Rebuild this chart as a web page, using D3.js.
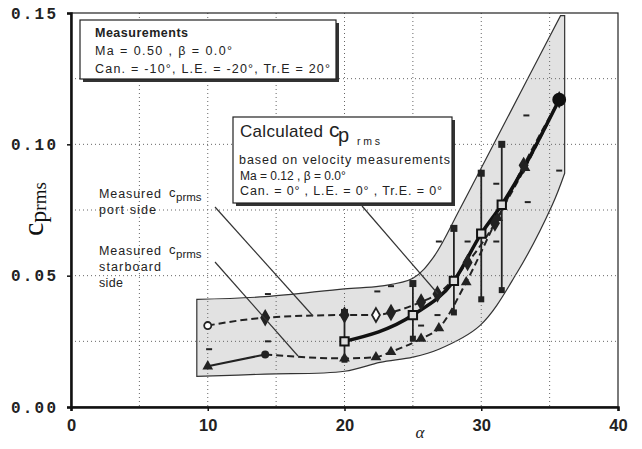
<!DOCTYPE html>
<html><head><meta charset="utf-8">
<script src="https://cdn.jsdelivr.net/npm/d3@7"></script>
<style>
body{margin:0;background:#fff;}
svg{display:block;}
</style></head>
<body>
<svg id="c" width="642" height="449"></svg>
<script>
// ---- data ----
const xTicks = [0, 10, 20, 30, 40];
const yTicks = [0.00, 0.05, 0.10, 0.15];
const yTickLabels = ["0.00", "0.05", "0.10", "0.15"];
const portAlpha = [10, 14.2, 20, 22.3, 23.4, 25.6, 26.8, 29.0, 31.0, 33.1, 35.7];
const portCp    = [0.031, 0.034, 0.035, 0.035, 0.036, 0.040, 0.043, 0.055, 0.070, 0.092, 0.117];
const starAlpha = [10, 14.2, 20, 22.3, 23.4, 25.6, 26.9, 28.9, 31.2, 33.2, 35.7];
const starCp    = [0.0155, 0.020, 0.0185, 0.019, 0.021, 0.026, 0.030, 0.0475, 0.072, 0.091, 0.117];
const calcAlpha = [20, 25, 28, 30, 31.5, 35.7];
const calcCp    = [0.025, 0.035, 0.048, 0.066, 0.077, 0.117];
const barAlpha  = [20, 25, 28, 30, 31.5];
const barLow    = [0.018, 0.026, 0.036, 0.041, 0.0445];
const barHigh   = [0.036, 0.047, 0.068, 0.089, 0.100];
const scatAlpha = [10.1, 14.4, 14.4, 22.4, 23.4, 25.6, 26.8, 26.9, 29.0, 31.1, 31.1, 33.3, 33.4, 35.7];
const scatCp    = [0.022, 0.025, 0.043, 0.044, 0.046, 0.031, 0.035, 0.063, 0.063, 0.063, 0.085, 0.111, 0.078, 0.090];
const bandUpperAlpha = [9.2, 14.2, 20, 22.6, 25, 26.5, 28.4, 30, 33.3, 35.8, 36.1];
const bandUpperCp    = [0.041, 0.042, 0.045, 0.046, 0.049, 0.057, 0.075, 0.091, 0.124, 0.149, 0.149];
const bandLowerAlpha = [36.1, 35.2, 32.6, 29.9, 26.9, 25, 22.6, 20, 14.2, 9.2];
const bandLowerCp    = [0.089, 0.077, 0.051, 0.031, 0.022, 0.019, 0.017, 0.0136, 0.0125, 0.0117];

// ---- layout ----
const svg = d3.select("#c");
const L = 71, R = 618, T = 13, B = 407;
const x = d3.scaleLinear().domain([0, 40]).range([L, R]);
const y = d3.scaleLinear().domain([0, 0.15]).range([B, T]);

// envelope band (smooth upper & lower edges, straight ends)
const bandLine = d3.line().x(d => x(d[0])).y(d => y(d[1])).curve(d3.curveCatmullRom.alpha(0.5));
const up = bandUpperAlpha.map((a, i) => [a, bandUpperCp[i]]);
const lo = bandLowerAlpha.map((a, i) => [a, bandLowerCp[i]]);
const bandPath = bandLine(up.slice(0, up.length - 1)) + "L" + x(up[up.length-1][0]) + "," + y(up[up.length-1][1]) +
  bandLine(lo).replace(/^M/, "L") + "Z";
svg.append("path").attr("d", bandPath)
  .attr("fill", "#e2e2e2").attr("stroke", "#333").attr("stroke-width", 1.2);

// grid (dotted)
const g = svg.append("g");
g.selectAll(".gx").data(d3.range(5, 40, 5)).join("line")
  .attr("x1", d => x(d)).attr("x2", d => x(d)).attr("y1", T).attr("y2", B)
  .attr("stroke", "#666").attr("stroke-width", 1).attr("stroke-dasharray", "1,3");
g.selectAll(".gy").data(d3.range(0.025, 0.15, 0.025)).join("line")
  .attr("y1", d => y(d)).attr("y2", d => y(d)).attr("x1", L).attr("x2", R)
  .attr("stroke", "#666").attr("stroke-width", 1).attr("stroke-dasharray", "1,3");

// frame
svg.append("rect").attr("x", L).attr("y", T).attr("width", R - L).attr("height", B - T)
  .attr("fill", "none").attr("stroke", "#222").attr("stroke-width", 1.2);

// axes
const xAxis = d3.axisBottom(x).tickValues(xTicks).tickSize(4).tickFormat(d3.format("d"));
const yAxis = d3.axisLeft(y).tickValues(yTicks).tickSize(4).tickFormat((d, i) => yTickLabels[i]);
const xa = svg.append("g").attr("transform", `translate(0,${B})`).call(xAxis);
const ya = svg.append("g").attr("transform", `translate(${L},0)`).call(yAxis);
xa.select(".domain").attr("stroke", "#111").attr("stroke-width", 2.5);
ya.select(".domain").attr("stroke", "#111").attr("stroke-width", 2.5);
xa.selectAll(".tick line").attr("stroke", "#111").attr("stroke-width", 1.5);
ya.selectAll(".tick line").attr("stroke", "#111").attr("stroke-width", 1.5);
xa.selectAll("text").attr("font-family", "Liberation Sans, Arial, sans-serif")
  .attr("font-weight", "bold").attr("font-size", 16.5).attr("fill", "#222").attr("dy", "1.0em");
ya.selectAll("text").attr("font-family", "Liberation Mono, DejaVu Sans Mono, monospace")
  .attr("font-weight", "bold").attr("font-size", 16).attr("fill", "#222").attr("dx", "-0.5em")
  .attr("textLength", 45).attr("lengthAdjust", "spacing");

// axis titles
const yl = svg.append("text").attr("transform", "translate(43,236) rotate(-90)")
  .attr("font-family", "Liberation Serif, serif").attr("fill", "#111");
yl.append("tspan").attr("font-size", 30).text("c");
yl.append("tspan").attr("font-size", 24).attr("dy", 3).text("p");
yl.append("tspan").attr("font-size", 19).attr("dy", 0).text("rms");
svg.append("text").attr("x", 420).attr("y", 438).attr("text-anchor", "middle")
  .attr("font-family", "Liberation Serif, serif").attr("font-style", "italic")
  .attr("font-size", 17).attr("fill", "#222").text("α");

// scatter dashes
svg.selectAll(".sc").data(scatAlpha.map((a, i) => [a, scatCp[i]])).join("line")
  .attr("x1", d => x(d[0]) - 3).attr("x2", d => x(d[0]) + 3)
  .attr("y1", d => y(d[1])).attr("y2", d => y(d[1]))
  .attr("stroke", "#222").attr("stroke-width", 2);

// error bars
const bars = barAlpha.map((a, i) => [a, barLow[i], barHigh[i]]);
svg.selectAll(".bar").data(bars).join("line")
  .attr("x1", d => x(d[0])).attr("x2", d => x(d[0]))
  .attr("y1", d => y(d[1])).attr("y2", d => y(d[2]))
  .attr("stroke", "#222").attr("stroke-width", 1.8);
svg.selectAll(".bt").data(bars).join("rect")
  .attr("x", d => x(d[0]) - 3.5).attr("y", d => y(d[2]) - 3.5).attr("width", 7).attr("height", 7)
  .attr("fill", "#222");
svg.selectAll(".bb").data(bars).join("rect")
  .attr("x", d => x(d[0]) - 3).attr("y", d => y(d[1]) - 3).attr("width", 6).attr("height", 6)
  .attr("fill", "#222");

const line = d3.line().x(d => x(d[0])).y(d => y(d[1])).curve(d3.curveMonotoneX);

// port side (dashed)
const port = portAlpha.map((a, i) => [a, portCp[i]]);
svg.append("path").datum(port).attr("d", line).attr("fill", "none")
  .attr("stroke", "#222").attr("stroke-width", 2).attr("stroke-dasharray", "7,4");
// starboard: solid first segment then dashed
const star = starAlpha.map((a, i) => [a, starCp[i]]);
svg.append("path").datum(star.slice(0, 2)).attr("d", line).attr("fill", "none")
  .attr("stroke", "#222").attr("stroke-width", 2);
svg.append("path").datum(star.slice(1)).attr("d", line).attr("fill", "none")
  .attr("stroke", "#222").attr("stroke-width", 2).attr("stroke-dasharray", "7,4");
// calculated (thick solid)
const calc = calcAlpha.map((a, i) => [a, calcCp[i]]);
svg.append("path").datum(calc).attr("d", line).attr("fill", "none")
  .attr("stroke", "#111").attr("stroke-width", 3.5);

// markers
svg.selectAll(".pm").data(port).join("path")
  .attr("transform", d => `translate(${x(d[0])},${y(d[1])})`)
  .attr("d", (d, i) => d3.symbol().type(i === 0 ? d3.symbolCircle : d3.symbolDiamond).size(i === 0 ? 40 : 55)())
  .attr("fill", (d, i) => (i === 0 || i === 3) ? "#fff" : "#222")
  .attr("stroke", "#222").attr("stroke-width", 1.8);
svg.selectAll(".sm").data(star).join("path")
  .attr("transform", d => `translate(${x(d[0])},${y(d[1])})`)
  .attr("d", (d, i) => d3.symbol().type(i === 1 ? d3.symbolCircle : d3.symbolTriangle).size(50)())
  .attr("fill", "#222");
svg.selectAll(".cm").data(calc).join("path")
  .attr("transform", d => `translate(${x(d[0])},${y(d[1])})`)
  .attr("d", (d, i) => d3.symbol().type(i === calc.length - 1 ? d3.symbolCircle : d3.symbolSquare).size(i === calc.length - 1 ? 110 : 70)())
  .attr("fill", (d, i) => i === calc.length - 1 ? "#111" : "#ddd")
  .attr("stroke", "#111").attr("stroke-width", 2);

// pointer lines
const ptr = [[215, 207, 313, 316], [215, 262, 298, 356], [362, 206, 438, 294]];
svg.selectAll(".ptr").data(ptr).join("line")
  .attr("x1", d => d[0]).attr("y1", d => d[1]).attr("x2", d => d[2]).attr("y2", d => d[3])
  .attr("stroke", "#333").attr("stroke-width", 1.2);

const font = "Liberation Sans, Arial, sans-serif";
function txt(parent, s, xp, yp, size, w, bold) {
  const t = parent.append("text").attr("x", xp).attr("y", yp).attr("font-size", size).text(s);
  if (w) t.attr("textLength", w).attr("lengthAdjust", "spacing");
  if (bold) t.attr("font-weight", "bold");
  return t;
}
// Measurements box
svg.append("rect").attr("x", 83).attr("y", 23).attr("width", 256).attr("height", 59).attr("fill", "#333");
svg.append("rect").attr("x", 80).attr("y", 20).attr("width", 256).attr("height", 59)
  .attr("fill", "#fff").attr("stroke", "#222").attr("stroke-width", 1.2);
const mt = svg.append("g").attr("font-family", font).attr("fill", "#222");
txt(mt, "Measurements", 95, 37, 12.5, 93, true);
txt(mt, "Ma  = 0.50 ,   β = 0.0°", 95, 55, 12.5, 137);
txt(mt, "Can. = -10°,  L.E. = -20°,  Tr.E  = 20°", 95, 73, 12.5, 235);

// Calculated box
svg.append("rect").attr("x", 236).attr("y", 120).attr("width", 219).attr("height", 86).attr("fill", "#333");
svg.append("rect").attr("x", 233).attr("y", 117).attr("width", 219).attr("height", 86)
  .attr("fill", "#fff").attr("stroke", "#222").attr("stroke-width", 1.2);
const ct = svg.append("g").attr("font-family", font).attr("fill", "#222");
txt(ct, "Calculated", 240, 137, 17, 83);
txt(ct, "c", 329, 137, 21);
txt(ct, "p", 338, 142, 20);
txt(ct, "rms", 357, 145, 10.5, 23);
txt(ct, "based on velocity measurements", 239, 164, 12.5, 211);
txt(ct, "Ma = 0.12 , β = 0.0°", 240, 180, 12);
txt(ct, "Can. = 0° , L.E. = 0° , Tr.E. = 0°", 240, 195, 12.5, 202);

// side annotations
const at = svg.append("g").attr("font-family", font).attr("fill", "#222");
txt(at, "Measured", 99, 198, 12.5, 62);
txt(at, "c", 169, 197, 13);
txt(at, "prms", 176, 201, 11.5);
txt(at, "port side", 99, 214, 12.5, 57);
txt(at, "Measured", 99, 255, 12.5, 62);
txt(at, "c", 169, 254, 13);
txt(at, "prms", 176, 258, 11.5);
txt(at, "starboard", 99, 271, 12.5, 62);
txt(at, "side", 99, 287, 12.5, 24);
</script>
</body></html>
